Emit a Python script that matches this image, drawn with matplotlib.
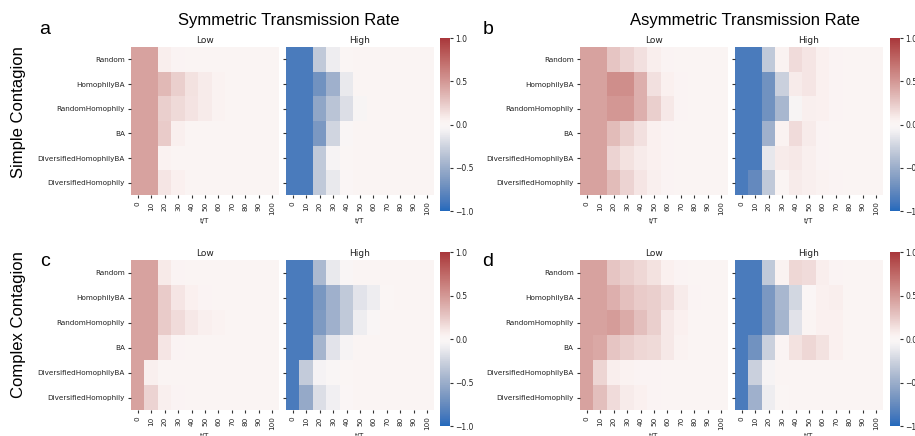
import numpy as np
import matplotlib
matplotlib.use("Agg")
import matplotlib.pyplot as plt
import seaborn as sns
from matplotlib.cm import ScalarMappable
from matplotlib.colors import Normalize

networks = ["Random", "HomophilyBA", "RandomHomophily", "BA",
            "DiversifiedHomophilyBA", "DiversifiedHomophily"]
times = [0, 10, 20, 30, 40, 50, 60, 70, 80, 90, 100]

# Panel a: Simple contagion, symmetric transmission rate
a_low = [
    [0.45, 0.45, 0.07, 0.03, 0.02, 0.02, 0.02, 0.02, 0.02, 0.02, 0.02],
    [0.45, 0.45, 0.33, 0.22, 0.13, 0.08, 0.04, 0.02, 0.02, 0.02, 0.02],
    [0.45, 0.45, 0.22, 0.17, 0.12, 0.08, 0.04, 0.02, 0.02, 0.02, 0.02],
    [0.45, 0.45, 0.24, 0.06, 0.02, 0.02, 0.02, 0.02, 0.02, 0.02, 0.02],
    [0.45, 0.45, 0.04, 0.02, 0.02, 0.02, 0.02, 0.02, 0.02, 0.02, 0.02],
    [0.45, 0.45, 0.11, 0.05, 0.02, 0.02, 0.02, 0.02, 0.02, 0.02, 0.02],
]
a_high = [
    [-0.87, -0.87, -0.32, -0.10, 0.00, 0.02, 0.02, 0.02, 0.02, 0.02, 0.02],
    [-0.87, -0.87, -0.70, -0.48, -0.12, 0.02, 0.02, 0.02, 0.02, 0.02, 0.02],
    [-0.87, -0.87, -0.55, -0.35, -0.18, -0.04, 0.02, 0.02, 0.02, 0.02, 0.02],
    [-0.87, -0.87, -0.65, -0.24, -0.02, 0.02, 0.02, 0.02, 0.02, 0.02, 0.02],
    [-0.87, -0.87, -0.32, -0.05, 0.00, 0.02, 0.02, 0.02, 0.02, 0.02, 0.02],
    [-0.87, -0.87, -0.32, -0.12, -0.01, 0.02, 0.02, 0.02, 0.02, 0.02, 0.02],
]
# Panel b: Simple contagion, asymmetric transmission rate
b_low = [
    [0.45, 0.45, 0.27, 0.20, 0.14, 0.07, 0.03, 0.02, 0.02, 0.02, 0.02],
    [0.45, 0.45, 0.55, 0.55, 0.38, 0.14, 0.05, 0.03, 0.02, 0.02, 0.02],
    [0.45, 0.45, 0.50, 0.50, 0.38, 0.22, 0.10, 0.03, 0.02, 0.02, 0.02],
    [0.45, 0.45, 0.32, 0.22, 0.14, 0.05, 0.03, 0.02, 0.02, 0.02, 0.02],
    [0.45, 0.45, 0.20, 0.13, 0.08, 0.05, 0.03, 0.02, 0.02, 0.02, 0.02],
    [0.45, 0.45, 0.32, 0.20, 0.11, 0.06, 0.03, 0.02, 0.02, 0.02, 0.02],
]
b_high = [
    [-0.87, -0.87, -0.32, 0.04, 0.16, 0.11, 0.05, 0.03, 0.02, 0.02, 0.02],
    [-0.87, -0.87, -0.70, -0.27, 0.08, 0.11, 0.05, 0.03, 0.02, 0.02, 0.02],
    [-0.87, -0.87, -0.70, -0.43, -0.04, 0.06, 0.05, 0.03, 0.02, 0.02, 0.02],
    [-0.87, -0.87, -0.48, 0.04, 0.16, 0.08, 0.03, 0.02, 0.02, 0.02, 0.02],
    [-0.87, -0.87, -0.13, 0.08, 0.10, 0.06, 0.03, 0.02, 0.02, 0.02, 0.02],
    [-0.87, -0.76, -0.32, 0.02, 0.08, 0.06, 0.04, 0.03, 0.02, 0.02, 0.02],
]
# Panel c: Complex contagion, symmetric transmission rate
c_low = [
    [0.45, 0.45, 0.09, 0.03, 0.02, 0.02, 0.02, 0.02, 0.02, 0.02, 0.02],
    [0.45, 0.45, 0.24, 0.11, 0.05, 0.03, 0.02, 0.02, 0.02, 0.02, 0.02],
    [0.45, 0.45, 0.24, 0.16, 0.10, 0.06, 0.04, 0.02, 0.02, 0.02, 0.02],
    [0.45, 0.45, 0.11, 0.03, 0.02, 0.02, 0.02, 0.02, 0.02, 0.02, 0.02],
    [0.45, 0.06, 0.02, 0.02, 0.02, 0.02, 0.02, 0.02, 0.02, 0.02, 0.02],
    [0.45, 0.20, 0.06, 0.03, 0.02, 0.02, 0.02, 0.02, 0.02, 0.02, 0.02],
]
c_high = [
    [-0.87, -0.87, -0.42, -0.12, -0.02, 0.02, 0.02, 0.02, 0.02, 0.02, 0.02],
    [-0.87, -0.87, -0.66, -0.48, -0.32, -0.15, -0.10, 0.00, 0.02, 0.02, 0.02],
    [-0.87, -0.87, -0.64, -0.48, -0.32, -0.10, -0.02, 0.02, 0.02, 0.02, 0.02],
    [-0.87, -0.87, -0.45, -0.15, -0.05, 0.02, 0.02, 0.02, 0.02, 0.02, 0.02],
    [-0.87, -0.30, -0.06, -0.02, 0.00, 0.02, 0.02, 0.02, 0.02, 0.02, 0.02],
    [-0.87, -0.53, -0.18, -0.08, -0.01, 0.02, 0.02, 0.02, 0.02, 0.02, 0.02],
]
# Panel d: Complex contagion, asymmetric transmission rate
d_low = [
    [0.45, 0.45, 0.27, 0.22, 0.18, 0.13, 0.05, 0.03, 0.02, 0.02, 0.02],
    [0.45, 0.45, 0.38, 0.29, 0.24, 0.22, 0.16, 0.08, 0.03, 0.02, 0.02],
    [0.45, 0.45, 0.48, 0.40, 0.30, 0.22, 0.10, 0.05, 0.02, 0.02, 0.02],
    [0.45, 0.42, 0.27, 0.22, 0.18, 0.17, 0.10, 0.04, 0.02, 0.02, 0.02],
    [0.45, 0.19, 0.07, 0.04, 0.03, 0.03, 0.02, 0.02, 0.02, 0.02, 0.02],
    [0.45, 0.30, 0.16, 0.08, 0.05, 0.03, 0.02, 0.02, 0.02, 0.02, 0.02],
]
d_high = [
    [-0.87, -0.87, -0.32, 0.04, 0.18, 0.16, 0.07, 0.03, 0.02, 0.02, 0.02],
    [-0.87, -0.87, -0.65, -0.43, -0.23, -0.01, 0.05, 0.07, 0.02, 0.02, 0.02],
    [-0.87, -0.87, -0.65, -0.45, -0.16, 0.02, 0.05, 0.05, 0.02, 0.02, 0.02],
    [-0.87, -0.70, -0.27, 0.03, 0.13, 0.18, 0.13, 0.05, 0.02, 0.02, 0.02],
    [-0.87, -0.27, -0.05, 0.02, 0.02, 0.02, 0.02, 0.02, 0.02, 0.02, 0.02],
    [-0.87, -0.48, -0.10, 0.01, 0.02, 0.02, 0.02, 0.02, 0.02, 0.02, 0.02],
]

cmap = sns.color_palette("vlag", as_cmap=True)
norm = Normalize(vmin=-1, vmax=1)

W, H = 915, 436
fig = plt.figure(figsize=(W / 100, H / 100), dpi=100)


def px_axes(x0, y0, x1, y1):
    return fig.add_axes([x0 / W, 1 - y1 / H, (x1 - x0) / W, (y1 - y0) / H])


def draw_heat(ax, data, title, show_ylabels):
    arr = np.array(data)
    ax.pcolormesh(np.arange(len(times) + 1), np.arange(len(networks) + 1), arr,
                  cmap=cmap, norm=norm)
    ax.set_xlim(0, len(times))
    ax.set_ylim(len(networks), 0)
    ax.set_xticks(np.arange(len(times)) + 0.5)
    ax.set_xticklabels([str(t) for t in times], rotation=90, fontsize=5.2)
    ax.set_yticks(np.arange(len(networks)) + 0.5)
    if show_ylabels:
        ax.set_yticklabels(networks, fontsize=5.2)
    else:
        ax.set_yticklabels([])
    ax.tick_params(length=2.5, width=0.8, pad=2, colors="#333333",
                   labelcolor="#222222")
    for s in ax.spines.values():
        s.set_visible(False)
    ax.set_title(title, fontsize=6.5, pad=3, color="#222222")
    ax.set_xlabel("t/T", fontsize=5, labelpad=2, color="#222222")


def draw_cbar(x0, y0, x1, y1):
    cax = px_axes(x0, y0, x1, y1)
    cb = fig.colorbar(ScalarMappable(norm=norm, cmap=cmap), cax=cax)
    cb.outline.set_visible(False)
    cb.set_ticks([-1.0, -0.5, 0.0, 0.5, 1.0])
    cb.ax.tick_params(labelsize=5.5, length=2.5, width=0.8, pad=1.5,
                      colors="#333333", labelcolor="#222222")


# layout in pixels
row_y = [(47, 195), (260, 410)]
cbar_y = [(38, 211), (252, 426)]
col_x = [((131, 279), (286, 434), (440, 450)),
         ((580, 728), (735, 883), (890, 900))]

panels = [[(a_low, a_high), (b_low, b_high)],
          [(c_low, c_high), (d_low, d_high)]]

for r in range(2):
    for c in range(2):
        low, high = panels[r][c]
        (lx0, lx1), (hx0, hx1), (cx0, cx1) = col_x[c]
        y0, y1 = row_y[r]
        ax1 = px_axes(lx0, y0, lx1, y1)
        draw_heat(ax1, low, "Low", True)
        ax2 = px_axes(hx0, y0, hx1, y1)
        draw_heat(ax2, high, "High", False)
        cy0, cy1 = cbar_y[r]
        draw_cbar(cx0, cy0, cx1, cy1)

sans = ["Liberation Sans", "DejaVu Sans"]
fig.text(289 / W, 1 - 21 / H, "Symmetric Transmission Rate", ha="center",
         va="center", fontsize=12, family=sans)
fig.text(745 / W, 1 - 21 / H, "Asymmetric Transmission Rate", ha="center",
         va="center", fontsize=12, family=sans)
fig.text(19 / W, 1 - 112 / H, "Simple Contagion", ha="center", va="center",
         rotation=90, fontsize=12, family=sans)
fig.text(19 / W, 1 - 325 / H, "Complex Contagion", ha="center", va="center",
         rotation=90, fontsize=12, family=sans)
for letter, x, y in [("a", 45, 29), ("b", 488, 30), ("c", 45, 261), ("d", 488, 261)]:
    fig.text(x / W, 1 - y / H, letter, ha="center", va="center",
             fontsize=14, family=sans)

fig.savefig("out.png", dpi=100)
